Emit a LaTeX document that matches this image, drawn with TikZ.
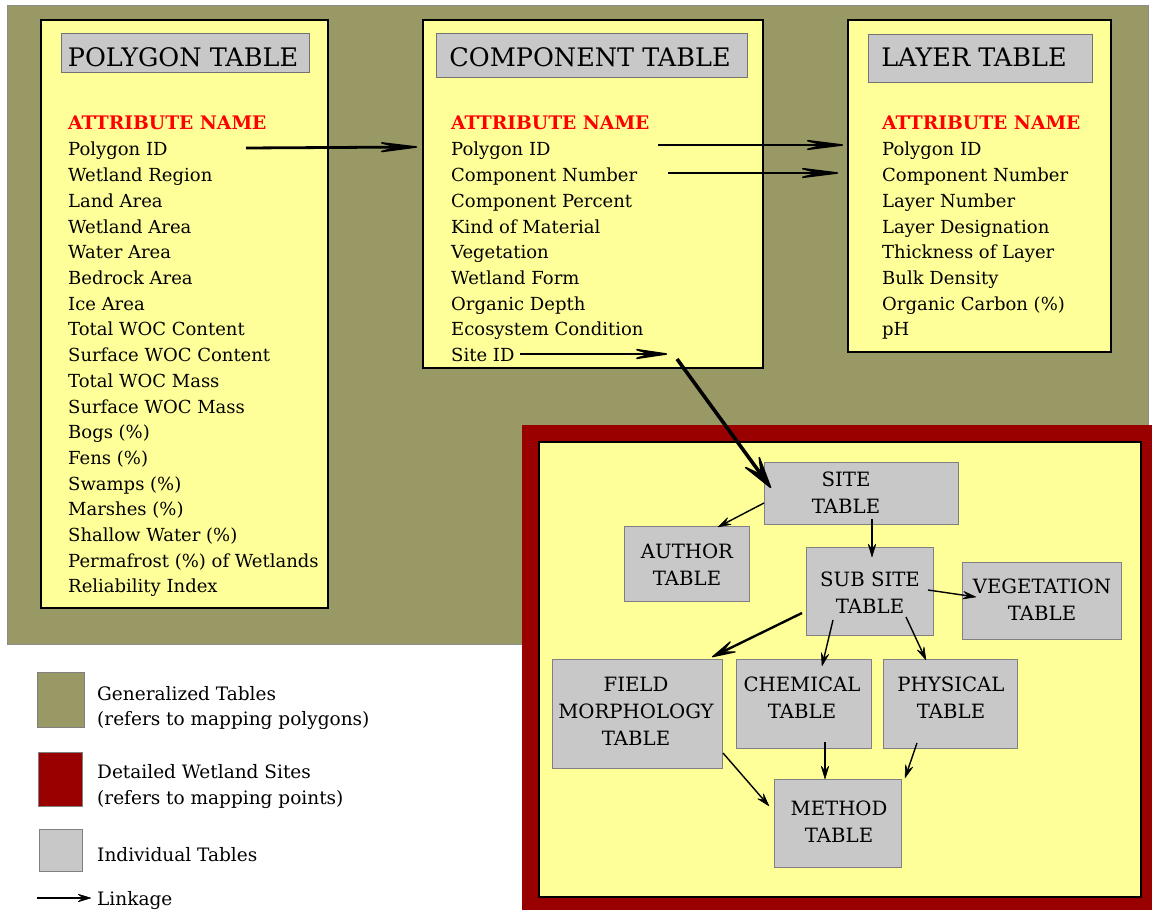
\documentclass[tikz,border=0pt]{standalone}
\usepackage{fontspec}
\setmainfont{DejaVu Serif}
\usetikzlibrary{arrows.meta,calc}
\definecolor{genolive}{HTML}{999966}
\definecolor{tabyellow}{HTML}{FFFF99}
\definecolor{sitered}{HTML}{990000}
\definecolor{tabgray}{HTML}{C8C8C8}
\definecolor{attrred}{HTML}{FF0000}
\begin{document}
\begin{tikzpicture}[x=1pt,y=-1pt,
  region/.style={anchor=north west, inner sep=0pt, outer sep=0pt},
  tbl/.style={region, draw=black, line width=2pt, fill=tabyellow},
  ttl/.style={region, draw=black!55, line width=0.8pt, fill=tabgray},
  ttltext/.style={anchor=base, inner sep=0pt, font=\fontsize{25.5}{30}\selectfont},
  attr/.style={anchor=base west, inner sep=0pt, text=attrred, font=\bfseries\fontsize{18.7}{22}\selectfont},
  item/.style={anchor=base west, inner sep=0pt, font=\fontsize{18}{22}\selectfont},
  subbox/.style={region, draw=black!50, line width=1pt, fill=tabgray},
  subtext/.style={align=center, inner sep=0pt, font=\fontsize{19.7}{27}\selectfont},
  legtext/.style={anchor=base west, inner sep=0pt, font=\fontsize{18.5}{22}\selectfont},
  bigarrow/.style={line width=2.8pt, -{Stealth[length=52pt,width=13pt,inset=24pt,line width=1.6pt,round]}},
  midarrow/.style={line width=2.8pt, -{Stealth[length=44pt,width=13pt,inset=20pt,line width=1.6pt,round]}},
  diagarrow/.style={line width=3.6pt, -{Stealth[length=40pt,width=22pt,inset=20pt,line width=1.6pt,round]}},
  fieldarrow/.style={line width=2.4pt, -{Stealth[length=30pt,width=15pt,inset=15pt,line width=1.2pt,round]}},
  smallarrow/.style={line width=1.4pt, -{Stealth[length=15pt,width=9pt,inset=6pt,line width=0.6pt,round]}}
]
\useasboundingbox (0,0) rectangle (1152,912);

% generalized region
\node[region, fill=genolive, draw=black!45, line width=0.8pt, minimum width=1141pt, minimum height=639pt] (gen) at (7,5) {};

% polygon table
\node[tbl, minimum width=287pt, minimum height=588pt] (pol) at (41,20) {};
\node[ttl, minimum width=248pt, minimum height=39pt] (polt) at (61,33) {};
\node[ttltext] (poltt) at (183,67) {POLYGON TABLE};
\node[attr] (pola) at (68,130) {ATTRIBUTE NAME};
\foreach \t [count=\i from 0] in {Polygon ID, Wetland Region, Land Area, Wetland Area, Water Area, Bedrock Area, Ice Area, Total WOC Content, Surface WOC Content, Total WOC Mass, Surface WOC Mass, Bogs (\%), Fens (\%), Swamps (\%), Marshes (\%), Shallow Water (\%), Permafrost (\%) of Wetlands, Reliability Index}
  \node[item] (pl\i) at (68,{156+25.7*\i}) {\t};

% component table
\node[tbl, minimum width=340pt, minimum height=348pt] (comp) at (423,20) {};
\node[ttl, minimum width=311pt, minimum height=44pt] (compt) at (436,33) {};
\node[ttltext] (comptt) at (590,67) {COMPONENT TABLE};
\node[attr] (compa) at (451,130) {ATTRIBUTE NAME};
\foreach \t [count=\i from 0] in {Polygon ID, Component Number, Component Percent, Kind of Material, Vegetation, Wetland Form, Organic Depth, Ecosystem Condition, Site ID}
  \node[item] (cl\i) at (451,{156+25.7*\i}) {\t};

% layer table
\node[tbl, minimum width=263pt, minimum height=332pt] (lay) at (848,20) {};
\node[ttl, minimum width=224pt, minimum height=48pt] (layt) at (868,34) {};
\node[ttltext] (laytt) at (974,67) {LAYER TABLE};
\node[attr] (laya) at (882,130) {ATTRIBUTE NAME};
\foreach \t [count=\i from 0] in {Polygon ID, Component Number, Layer Number, Layer Designation, Thickness of Layer, Bulk Density, Organic Carbon (\%), pH}
  \node[item] (ll\i) at (882,{156+25.7*\i}) {\t};

% detailed wetland sites region
\node[region, fill=sitered, minimum width=630pt, minimum height=485pt] (det) at (522,425) {};
\node[region, fill=tabyellow, draw=black, line width=1.5pt, minimum width=602pt, minimum height=455pt] (deti) at (539,442) {};

% individual tables
\node[subbox, minimum width=194pt, minimum height=62pt] (site) at (764,462) {};
\node[subtext] (sitet) at (846,493) {SITE\\TABLE};
\node[subbox, minimum width=125pt, minimum height=75pt] (auth) at (624,526) {};
\node[subtext] (autht) at (687,564.5) {AUTHOR\\TABLE};
\node[subbox, minimum width=127pt, minimum height=88pt] (subs) at (806,547) {};
\node[subtext] (subst) at (870,592.5) {SUB SITE\\TABLE};
\node[subbox, minimum width=159pt, minimum height=77pt] (veg) at (962,562) {};
\node[subtext] (vegt) at (1042,600) {VEGETATION\\TABLE};
\node[subbox, minimum width=170pt, minimum height=109pt] (field) at (552,659) {};
\node[subtext] (fieldt) at (636,711.5) {FIELD\\MORPHOLOGY\\TABLE};
\node[subbox, minimum width=135pt, minimum height=89pt] (chem) at (736,659) {};
\node[subtext] (chemt) at (802,698) {CHEMICAL\\TABLE};
\node[subbox, minimum width=134pt, minimum height=89pt] (phys) at (883,659) {};
\node[subtext] (physt) at (951,698) {PHYSICAL\\TABLE};
\node[subbox, minimum width=127pt, minimum height=88pt] (meth) at (774,779) {};
\node[subtext] (metht) at (839,822) {METHOD\\TABLE};

% linkages between the generalized tables
\draw[bigarrow] ($(pol.north east)+(-82,128)$) -- ($(comp.north west)+(-6,127)$);
\draw[bigarrow] ($(comp.north east)+(-105,125)$) -- ($(lay.north west)+(-5,125)$);
\draw[bigarrow] ($(comp.north east)+(-95,153)$) -- ($(lay.north west)+(-10,153)$);
\draw[midarrow] ($(comp.north west)+(97,334)$) -- ($(comp.north west)+(244,334)$);
\draw[diagarrow] ($(comp.north west)+(254,339)$) -- ($(site.north west)+(7,26)$);

% linkages between the individual tables
\draw[smallarrow] ($(site.north west)+(0,41)$) -- ($(auth.north west)+(94,1)$);
\draw[smallarrow] ($(site.north west)+(108,57)$) -- ($(subs.north west)+(66,10)$);
\draw[smallarrow] ($(subs.north west)+(122,43)$) -- ($(veg.north west)+(14,35)$);
\draw[fieldarrow] ($(subs.north west)+(-4,66)$) -- ($(field.north west)+(160,-2)$);
\draw[smallarrow] ($(subs.north west)+(27,73)$) -- ($(chem.north west)+(86,7)$);
\draw[smallarrow] ($(subs.north west)+(100,70)$) -- ($(phys.north west)+(43,1)$);
\draw[smallarrow] ($(field.north west)+(171,94)$) -- ($(meth.north west)+(-5,27)$);
\draw[smallarrow] ($(chem.north west)+(89,83)$) -- ($(meth.north west)+(51,0)$);
\draw[smallarrow] ($(phys.north west)+(34,84)$) -- ($(meth.north west)+(131,-1)$);

% legend
\node[region, fill=genolive, draw=black!50, line width=0.8pt, minimum width=47pt, minimum height=55pt] (lgen) at (37,672) {};
\node[legtext] (lgen1) at (97,700) {Generalized Tables};
\node[legtext] (lgen2) at (97,725) {(refers to mapping polygons)};
\node[region, fill=sitered, draw=black!50, line width=0.8pt, minimum width=44pt, minimum height=54pt] (lsite) at (38,752) {};
\node[legtext] (lsite1) at (97,778) {Detailed Wetland Sites};
\node[legtext] (lsite2) at (97,804) {(refers to mapping points)};
\node[region, fill=tabgray, draw=black!50, line width=0.8pt, minimum width=43pt, minimum height=42pt] (lind) at (39,829) {};
\node[legtext] (lind1) at (97,861) {Individual Tables};
\node[legtext] (llink) at (97,905) {Linkage};
\coordinate (lk1) at (37,898);
\draw[smallarrow, line width=1.2pt] (lk1) -- ($(llink.base west)+(-6,-7)$);
\end{tikzpicture}
\end{document}
